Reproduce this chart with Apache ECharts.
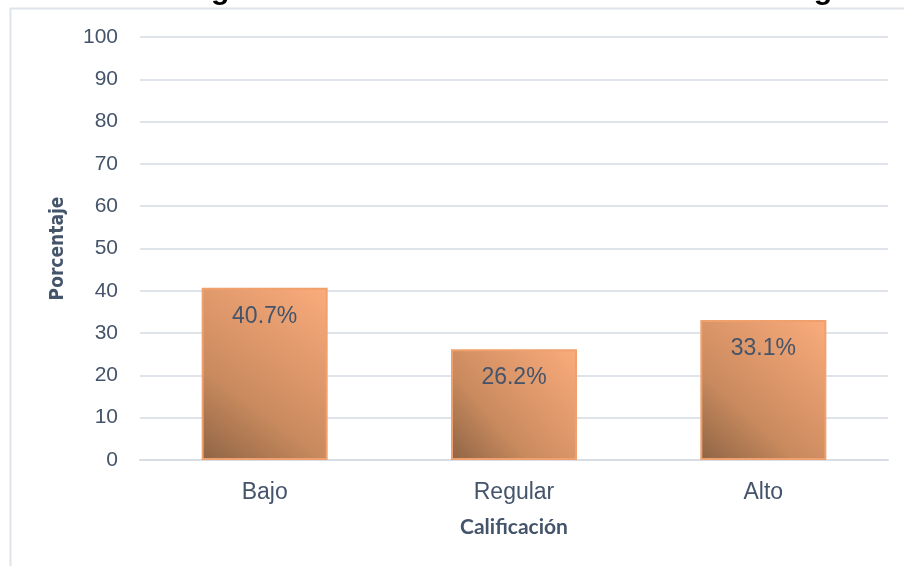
<!DOCTYPE html>
<html><head><meta charset="utf-8">
<script src="https://cdn.jsdelivr.net/npm/echarts@6/dist/echarts.min.js"></script>
<style>html,body{margin:0;padding:0;background:#fff}#c{width:904px;height:566px}</style>
</head><body><div id="c"></div>
<script>
const categories = ['Bajo', 'Regular', 'Alto'];
const values = [40.7, 26.2, 33.1];
const yTicks = [0, 10, 20, 30, 40, 50, 60, 70, 80, 90, 100];
const titleText = 'Figura 3. Calificación de la variable clima organizacional';
const yName = 'Porcentaje';
const xName = 'Calificación';

const chart = echarts.init(document.getElementById('c'), null, {renderer: 'canvas'});
const textColor = '#44546a';
const option = {
  backgroundColor: '#fff',
  animation: false,
  graphic: [
    {type: 'rect', shape: {x: 10.5, y: 8.5, width: 910, height: 600}, style: {fill: 'none', stroke: '#dfe3ea', lineWidth: 2}, z: -1},
    {type: 'text', x: 184, y: 6, style: {text: titleText, font: 'bold 30.3px Arial, "Liberation Sans", sans-serif', fill: '#000', verticalAlign: 'bottom', align: 'left'}}
  ],
  grid: {left: 140, right: 16, top: 37, bottom: 106, containLabel: false},
  xAxis: {
    type: 'category', data: categories,
    axisLine: {show: true, lineStyle: {color: '#d9dde5', width: 2}},
    axisTick: {show: false},
    axisLabel: {color: textColor, fontSize: 23, fontFamily: 'Arial, "Liberation Sans", sans-serif', margin: 21},
    name: xName, nameLocation: 'middle', nameGap: 57,
    nameTextStyle: {color: textColor, fontSize: 21, fontWeight: 'bold', fontFamily: 'Lato, "Liberation Sans Narrow", sans-serif'}
  },
  yAxis: {
    type: 'value', min: yTicks[0], max: yTicks[yTicks.length - 1], interval: 10,
    axisLine: {show: false}, axisTick: {show: false},
    splitLine: {lineStyle: {color: '#dfe3ea', width: 2}},
    axisLabel: {color: textColor, fontSize: 21, fontFamily: 'Arial, "Liberation Sans", sans-serif', margin: 22},
    name: yName, nameLocation: 'middle', nameGap: 72, nameRotate: 90,
    nameTextStyle: {color: textColor, fontSize: 19, fontWeight: 'bold', fontFamily: '"Liberation Sans Narrow", "DejaVu Sans Condensed", sans-serif'}
  },
  series: [{
    type: 'bar', data: values, barWidth: 126,
    itemStyle: {
      color: new echarts.graphic.LinearGradient(0, 1, 1, 0, [
        {offset: 0, color: '#8e6444'},
        {offset: 0.35, color: '#c98a5e'},
        {offset: 0.7, color: '#e49c6e'},
        {offset: 1, color: '#fbac7c'}
      ]),
      borderColor: '#f0a06c', borderWidth: 2
    },
    label: {
      show: true, position: 'insideTop', distance: 17,
      formatter: p => p.value.toFixed(1) + '%',
      color: textColor, fontSize: 23, fontFamily: 'Arial, "Liberation Sans", sans-serif'
    }
  }]
};
chart.setOption(option);
</script></body></html>
